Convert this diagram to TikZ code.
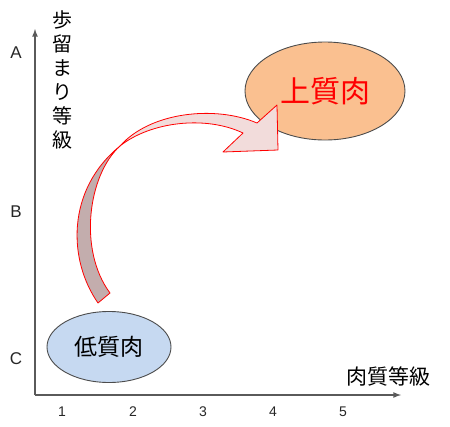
\documentclass[tikz,border=0pt]{standalone}
\usepackage{fontspec}
\setmainfont{Liberation Sans}
\newfontfamily\jfont{Noto Sans CJK JP}
\usepackage{xcolor}
\usetikzlibrary{arrows, positioning, shapes.geometric}

\definecolor{axisgray}{HTML}{5A5A5A}
\definecolor{highfill}{HTML}{FAC090}
\definecolor{lowfill}{HTML}{C6D9F1}
\definecolor{bandpink}{HTML}{F2DCDB}
\definecolor{bandgray}{HTML}{C3ADAD}

\begin{document}
\begin{tikzpicture}[x=1pt, y=-1pt, line join=round,
   grade/.style={font=\fontsize{17}{17}\selectfont, text=black!85},
   rank/.style={font=\fontsize{14}{14}\selectfont, text=black!85},
   meat/.style={ellipse, draw=black!70, line width=0.9pt, inner sep=0pt},
   band/.style={draw=red, line width=0.8pt}]
   \useasboundingbox (0,0) rectangle (450,426);

   % axes
   \coordinate (o) at (35,395);
   \coordinate (ytop) at (35,29);
   \coordinate (xend) at (401,395);
   \draw[axisgray, line width=1.6pt, -latex] (o) -- (ytop);
   \draw[axisgray, line width=1.6pt, -latex] (o) -- (xend);

   % grades on the vertical axis
   \node[grade] (gA) at (16,53) {A};
   \node[grade] (gB) at (16,212) {B};
   \node[grade] (gC) at (16,359) {C};

   % grades on the horizontal axis
   \node[rank] (r1) at (62,412) {1};
   \node[rank] (r2) at (133,412) {2};
   \node[rank] (r3) at (203,412) {3};
   \node[rank] (r4) at (273,412) {4};
   \node[rank] (r5) at (343,412) {5};

   % axis titles
   \node[font=\jfont\fontsize{20}{24}\selectfont, align=center] (ylab) at (62,80)
      {歩\\留\\ま\\り\\等\\級};
   \node[font=\jfont\fontsize{21}{21}\selectfont] (xlab) at (388,376) {肉質等級};

   % meat quality
   \node[meat, fill=lowfill, minimum width=124, minimum height=71] (low) at (109,347)
      {\jfont\fontsize{23}{23}\selectfont 低質肉};
   \node[meat, fill=highfill, minimum width=160, minimum height=98] (high) at (325,91)
      {\jfont\fontsize{30}{30}\selectfont\color{red} 上質肉};

   % curved arrow
   \draw[band, fill=bandgray] (98,303) .. controls (68,260) and (66,190) .. (120,146)
      .. controls (88,175) and (78,250) .. (110,293) -- cycle;
   \draw[band, fill=bandpink] (120,146) .. controls (150,122) and (205,115) .. (243,133)
      -- (223,152) -- (278,150) -- (277,105) -- (257,123)
      .. controls (215,105) and (150,112) .. (120,146) -- cycle;
\end{tikzpicture}
\end{document}
